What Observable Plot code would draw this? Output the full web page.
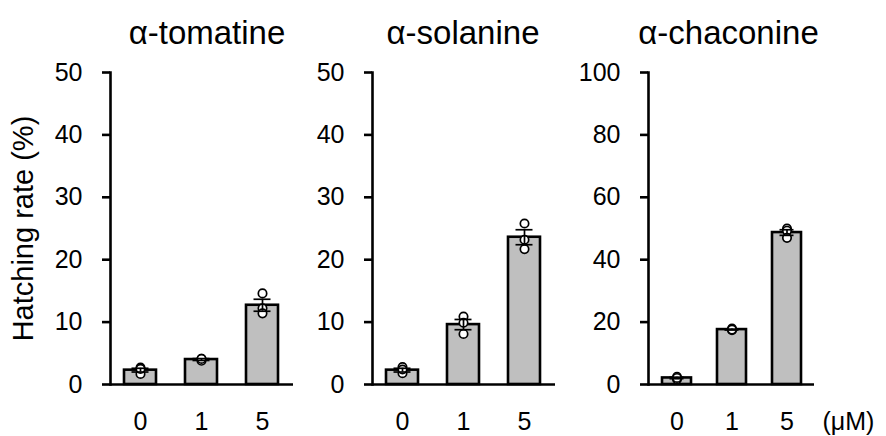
<!DOCTYPE html>
<html><head><meta charset="utf-8">
<script src="https://cdn.jsdelivr.net/npm/d3@7"></script>
<script src="https://cdn.jsdelivr.net/npm/@observablehq/plot@0.6"></script>
<style>
body{margin:0;background:#fff;}
#chart{position:relative;width:886px;height:436px;font-family:"Liberation Sans",Arial,sans-serif;}
#chart svg{position:absolute;top:0;overflow:visible;}
</style></head><body><div id="chart"></div>
<script>
// ---- data ----
const doses = ["0", "1", "5"];
const compounds = ["α-tomatine", "α-solanine", "α-chaconine"];
const yMaxima = [50, 50, 100];
const yTickValues = [[0,10,20,30,40,50],[0,10,20,30,40,50],[0,20,40,60,80,100]];
const yLabel = "Hatching rate (%)";
const unitLabel = "(μM)";

const tomatineMean = [2.3, 4.0, 12.7];
const tomatineSE = [0.3, 0.15, 0.96];
const tomatinePoints = [[2.7, 1.7, 2.5], [4.1, 3.8, 4.1], [14.6, 12.2, 11.4]];

const solanineMean = [2.3, 9.6, 23.6];
const solanineSE = [0.3, 0.82, 1.2];
const solaninePoints = [[2.8, 1.8, 2.4], [10.9, 9.9, 8.1], [25.8, 23.2, 21.7]];

const chaconineMean = [2.1, 17.6, 48.7];
const chaconineSE = [0.25, 0.15, 0.9];
const chaconinePoints = [[2.5, 1.7, 2.1], [17.9, 17.4, 17.6], [50.0, 49.3, 47.0]];

const means = [tomatineMean, solanineMean, chaconineMean];
const ses = [tomatineSE, solanineSE, chaconineSE];
const points = [tomatinePoints, solaninePoints, chaconinePoints];

// ---- layout ----
const panels = [
  {left: 0,   width: 300, marginLeft: 110, marginRight: 7,  titleDx: 5},
  {left: 300, width: 262, marginLeft: 72,  marginRight: 7,  titleDx: -1},
  {left: 562, width: 324, marginLeft: 86,  marginRight: 72, titleDx: -3}
];
const font = '"Liberation Sans", Arial, sans-serif';
const container = document.getElementById("chart");

panels.forEach((p, i) => {
  const rows = doses.map((d, j) => ({dose: d, mean: means[i][j], lo: means[i][j] - ses[i][j], hi: means[i][j] + ses[i][j]}));
  const pts = doses.flatMap((d, j) => points[i][j].map(v => ({dose: d, value: v})));
  const marks = [
    Plot.barY(rows, {x: "dose", y: "mean", fill: "#bfbfbf", stroke: "black", strokeWidth: 2.6}),
    Plot.dot(pts, {x: "dose", y: "value", r: 4.2, fill: "white", stroke: "black", strokeWidth: 1.7}),
    Plot.ruleX(rows, {x: "dose", y1: "lo", y2: "hi", stroke: "black", strokeWidth: 1.7}),
    Plot.tickY(rows, {x: "dose", y: "lo", stroke: "black", strokeWidth: 1.7, insetLeft: 7.5, insetRight: 7.5}),
    Plot.tickY(rows, {x: "dose", y: "hi", stroke: "black", strokeWidth: 1.7, insetLeft: 7.5, insetRight: 7.5}),
    Plot.ruleY([0], {stroke: "black", strokeWidth: 2.6}),
    Plot.frame({anchor: "left", stroke: "black", strokeWidth: 2.6}),
    Plot.axisY({ticks: yTickValues[i], tickSize: 8, tickPadding: 20, strokeWidth: 2.6, fontSize: 25, label: null, fill: "black"}),
    Plot.axisX({tickSize: 0, tickPadding: 28, fontSize: 25, label: null, fill: "black"}),
    Plot.text([compounds[i]], {frameAnchor: "top", lineAnchor: "top", dy: -52, dx: p.titleDx, fontSize: 33, fill: "black"})
  ];
  if (i === 0) {
    marks.push(Plot.text([yLabel], {frameAnchor: "left", textAnchor: "middle", lineAnchor: "middle", rotate: -90, dx: -87, fontSize: 29, fill: "black"}));
  }
  if (i === 2) {
    marks.push(Plot.text([unitLabel], {frameAnchor: "bottom-right", textAnchor: "start", lineAnchor: "top", dx: 8, dy: 28, fontSize: 25, fill: "black"}));
  }
  const chart = Plot.plot({
    width: p.width,
    height: 436,
    marginLeft: p.marginLeft,
    marginRight: p.marginRight,
    marginTop: 72,
    marginBottom: 52,
    style: {fontFamily: font, fontSize: "25px", background: "transparent", color: "black"},
    x: {type: "band", domain: doses, paddingInner: 0.475, paddingOuter: 0.2375},
    y: {domain: [0, yMaxima[i]]},
    marks
  });
  chart.style.left = p.left + "px";
  container.appendChild(chart);
});
</script>
</body></html>
